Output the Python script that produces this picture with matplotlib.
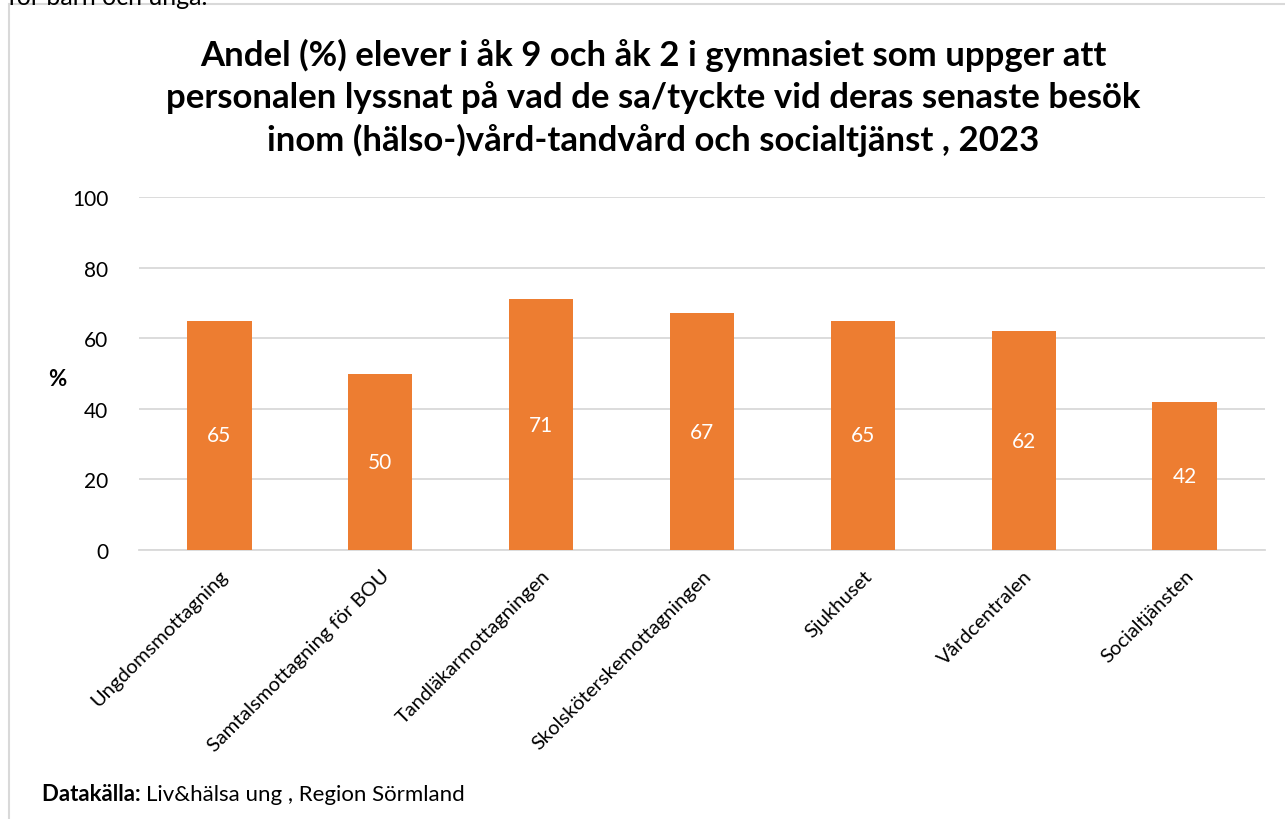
import matplotlib
matplotlib.use("Agg")
import matplotlib.pyplot as plt
from matplotlib.patches import Rectangle

plt.rcParams['font.family'] = ['Lato', 'DejaVu Sans']

categories = ["Ungdomsmottagning", "Samtalsmottagning för BOU", "Tandläkarmottagningen",
              "Skolsköterskemottagningen", "Sjukhuset", "Vårdcentralen", "Socialtjänsten"]
values = [65, 50, 71, 67, 65, 62, 42]
yticks = [0, 20, 40, 60, 80, 100]

title = ("Andel (%) elever i åk 9 och åk 2 i gymnasiet som uppger att\n"
         "personalen lyssnat på vad de sa/tyckte vid deras senaste besök\n"
         "inom (hälso-)vård-tandvård och socialtjänst , 2023")

orange = "#ED7D31"
grid = "#D9D9D9"

fig = plt.figure(figsize=(12.85, 8.2), dpi=100)
W, H = 1285, 820

# frame of the chart box (right/bottom run off the picture)
fig.patches.append(Rectangle((9 / W, -0.1), 1.2, (815 / H) + 0.1, transform=fig.transFigure,
                             fill=False, edgecolor="#D9D9D9", linewidth=1.5))
# cut-off text above the chart
fig.text(8 / W, 1 - 5 / H, "för barn och unga.", fontsize=18, va="baseline", ha="left")

ax = fig.add_axes([139 / W, 1 - 551 / H, (1265 - 139) / W, (551 - 198) / H])
x = range(len(categories))
bars = ax.bar(x, values, width=0.4, color=orange, zorder=3)
for xi, v in zip(x, values):
    ax.text(xi, v / 2, str(v), ha="center", va="center", color="white", fontsize=15)

ax.set_xlim(-0.5, len(categories) - 0.5)
ax.set_ylim(0, 100)
ax.set_yticks(yticks)
ax.set_yticklabels([str(t) for t in yticks], fontsize=15)
ax.set_xticks(list(x))
ax.set_xticklabels(categories, rotation=45, ha="right", rotation_mode="anchor", fontsize=14.5)
ax.tick_params(axis="both", length=0)
ax.tick_params(axis="x", pad=12)
ax.tick_params(axis="y", pad=22)
ax.yaxis.grid(True, color=grid, linewidth=1.3, zorder=0)
for s in ["top", "right", "left"]:
    ax.spines[s].set_visible(False)
ax.spines["bottom"].set_color(grid)
ax.spines["bottom"].set_linewidth(1.3)

fig.text(57 / W, 1 - 380 / H, "%", fontsize=16, fontweight="bold", ha="center", va="center")
fig.text(653 / W, 1 - 98 / H, title, fontsize=25, fontweight="bold", ha="center", va="center",
         linespacing=1.35)

src_bold = fig.text(42 / W, 1 - 795 / H, "Datakälla: ", fontsize=16, fontweight="bold",
                    ha="left", va="center")
renderer = fig.canvas.get_renderer()
bb = src_bold.get_window_extent(renderer)
fig.text(bb.x1 / W, 1 - 795 / H, "Liv&hälsa ung , Region Sörmland", fontsize=16,
         ha="left", va="center")

fig.savefig("out.png", dpi=100)
